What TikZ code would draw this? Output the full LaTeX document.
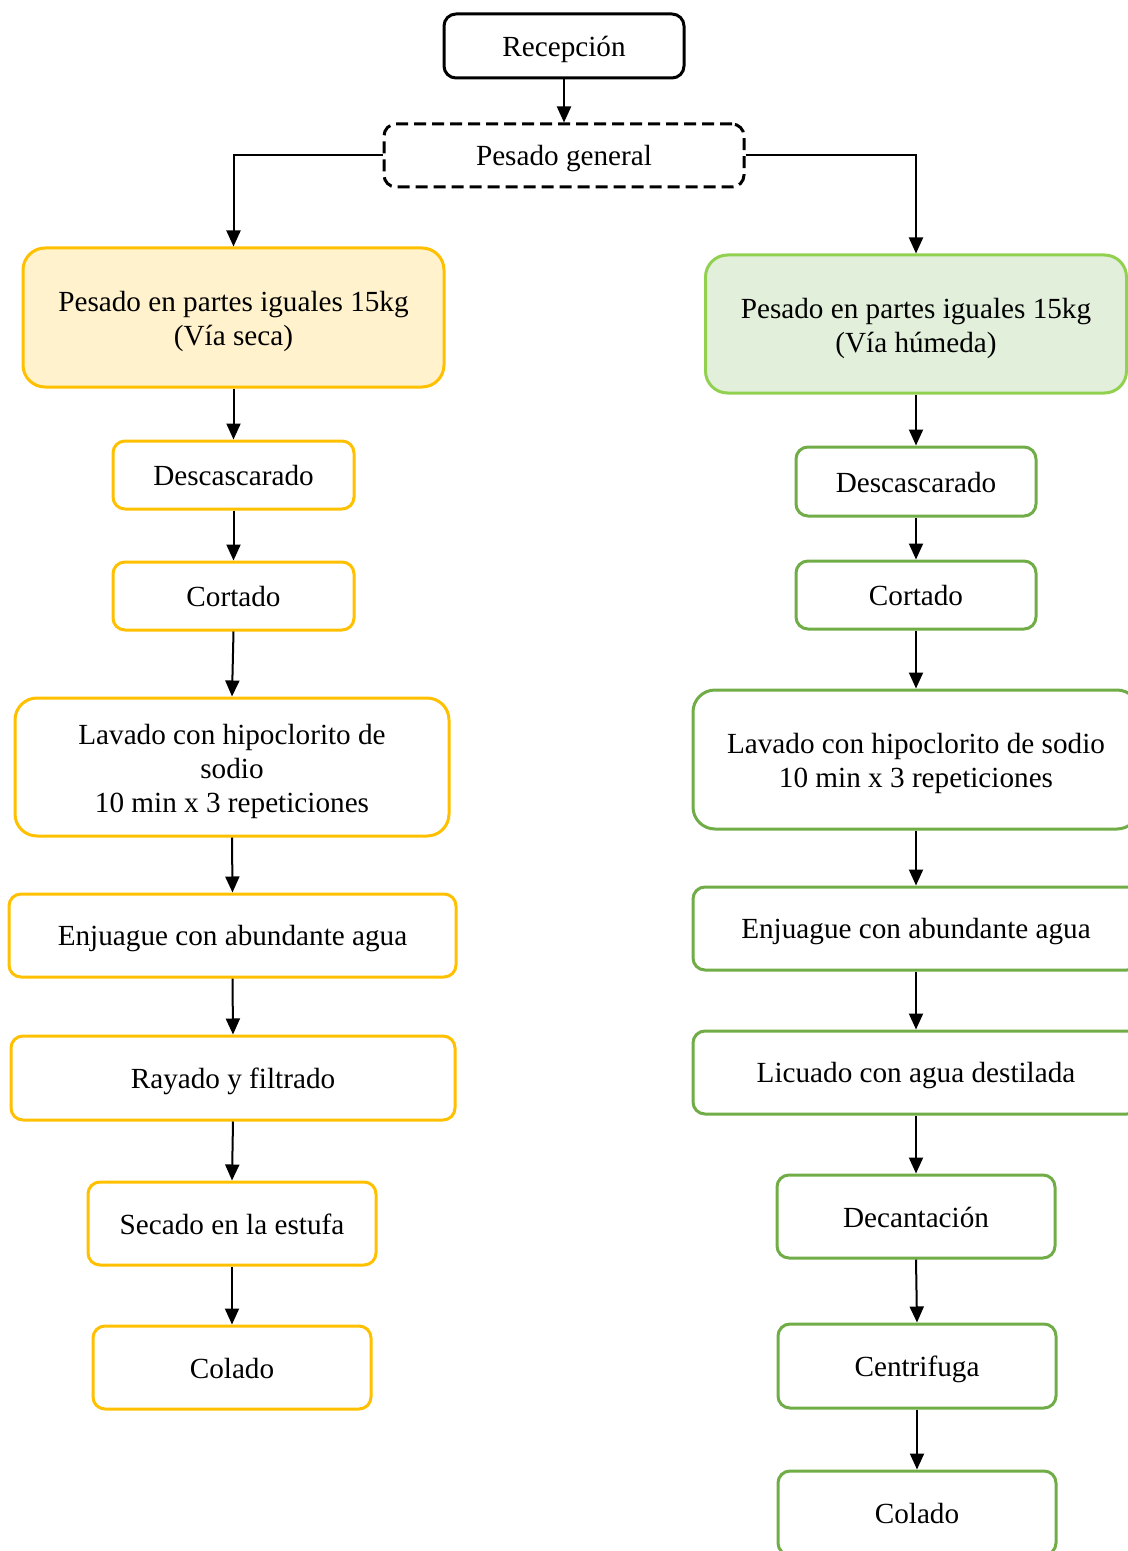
\documentclass[tikz,border=0pt]{standalone}
\usepackage{fontspec}
\setmainfont{Liberation Serif}
\usetikzlibrary{arrows.meta}
\definecolor{ybord}{HTML}{FFC000}
\definecolor{yfill}{HTML}{FFF2CC}
\definecolor{gbordl}{HTML}{92D050}
\definecolor{gfill}{HTML}{E2EFDA}
\definecolor{gbord}{HTML}{70AD47}
\newcommand\topstrut{\rule{0pt}{14.5pt}}
\begin{document}
\begin{tikzpicture}[x=0.5pt,y=-0.5pt,
  box/.style={rectangle, rounded corners=6pt, line width=1.5pt, align=center, inner sep=0pt,
    font=\fontsize{14.6}{17}\selectfont,
    execute at begin node={\rule{0pt}{13.5pt}},
    execute at end node={\rule[-3pt]{0pt}{3pt}}},
  bigbox/.style={box, rounded corners=11pt},
  ybox/.style={box, draw=ybord},
  gbox/.style={box, draw=gbord},
  conn/.style={line width=1pt, -{Triangle[length=8pt,width=7pt]}}]
\useasboundingbox (0,0) rectangle (1128,1551);
\clip (0,0) rectangle (1128,1551);
\node[box, draw=black, minimum width=120pt, minimum height=32pt] (rec) at (564,46) {Recepción};
\node[box, draw=black, dash pattern=on 6pt off 3pt, minimum width=180pt, minimum height=31.5pt] (pg) at (564,155.5) {Pesado general};
\node[bigbox, draw=ybord, fill=yfill, minimum width=210.5pt, minimum height=69.5pt] (ly) at (233.5,317.5) {\topstrut Pesado en partes iguales 15kg\\(Vía seca)};
\node[bigbox, draw=gbordl, fill=gfill, minimum width=210.5pt, minimum height=69pt] (gy) at (916,324) {\topstrut Pesado en partes iguales 15kg\\(Vía húmeda)};
% left column
\node[ybox, minimum width=120.5pt, minimum height=34pt] (l1) at (233.5,475) {Descascarado};
\node[ybox, minimum width=120.5pt, minimum height=34pt] (l2) at (233.5,596) {Cortado};
\node[ybox, rounded corners=11pt, minimum width=217pt, minimum height=69pt] (l3) at (232,767) {\topstrut Lavado con hipoclorito de\\sodio\\10 min x 3 repeticiones};
\node[ybox, minimum width=223.5pt, minimum height=41.5pt] (l4) at (232.5,935.5) {Enjuague con abundante agua};
\node[ybox, minimum width=222pt, minimum height=42pt] (l5) at (233,1078) {Rayado y filtrado};
\node[ybox, minimum width=144pt, minimum height=41.5pt] (l6) at (232,1223.5) {Secado en la estufa};
\node[ybox, minimum width=139pt, minimum height=41.5pt] (l7) at (232,1367.5) {Colado};
% right column
\node[gbox, minimum width=120pt, minimum height=34.5pt] (r1) at (916,481.5) {Descascarado};
\node[gbox, minimum width=120pt, minimum height=34pt] (r2) at (916,595) {Cortado};
\node[gbox, rounded corners=11pt, minimum width=223pt, minimum height=69.5pt] (r3) at (916,759.5) {\topstrut Lavado con hipoclorito de sodio\\10 min x 3 repeticiones};
\node[gbox, minimum width=223pt, minimum height=41.5pt] (r4) at (916,928.5) {Enjuague con abundante agua};
\node[gbox, minimum width=223pt, minimum height=41.5pt] (r5) at (916,1072.5) {Licuado con agua destilada};
\node[gbox, minimum width=139pt, minimum height=41.5pt] (r6) at (916,1216.5) {Decantación};
\node[gbox, minimum width=139pt, minimum height=42pt] (r7) at (917,1366) {Centrifuga};
\node[gbox, minimum width=139pt, minimum height=42pt] (r8) at (917,1513) {Colado};
% connectors
\draw[conn] (rec.south) -- (pg.north);
\draw[conn] (pg.west) -| (ly.north);
\draw[conn] (pg.east) -| (gy.north);
\draw[conn] (ly.south) -- (l1.north);
\draw[conn] (l1.south) -- (l2.north);
\draw[conn] (l2.south) -- (l3.north);
\draw[conn] (l3.south) -- (l4.north);
\draw[conn] (l4.south) -- (l5.north);
\draw[conn] (l5.south) -- (l6.north);
\draw[conn] (l6.south) -- (l7.north);
\draw[conn] (gy.south) -- (r1.north);
\draw[conn] (r1.south) -- (r2.north);
\draw[conn] (r2.south) -- (r3.north);
\draw[conn] (r3.south) -- (r4.north);
\draw[conn] (r4.south) -- (r5.north);
\draw[conn] (r5.south) -- (r6.north);
\draw[conn] (r6.south) -- (r7.north);
\draw[conn] (r7.south) -- (r8.north);
\end{tikzpicture}
\end{document}
